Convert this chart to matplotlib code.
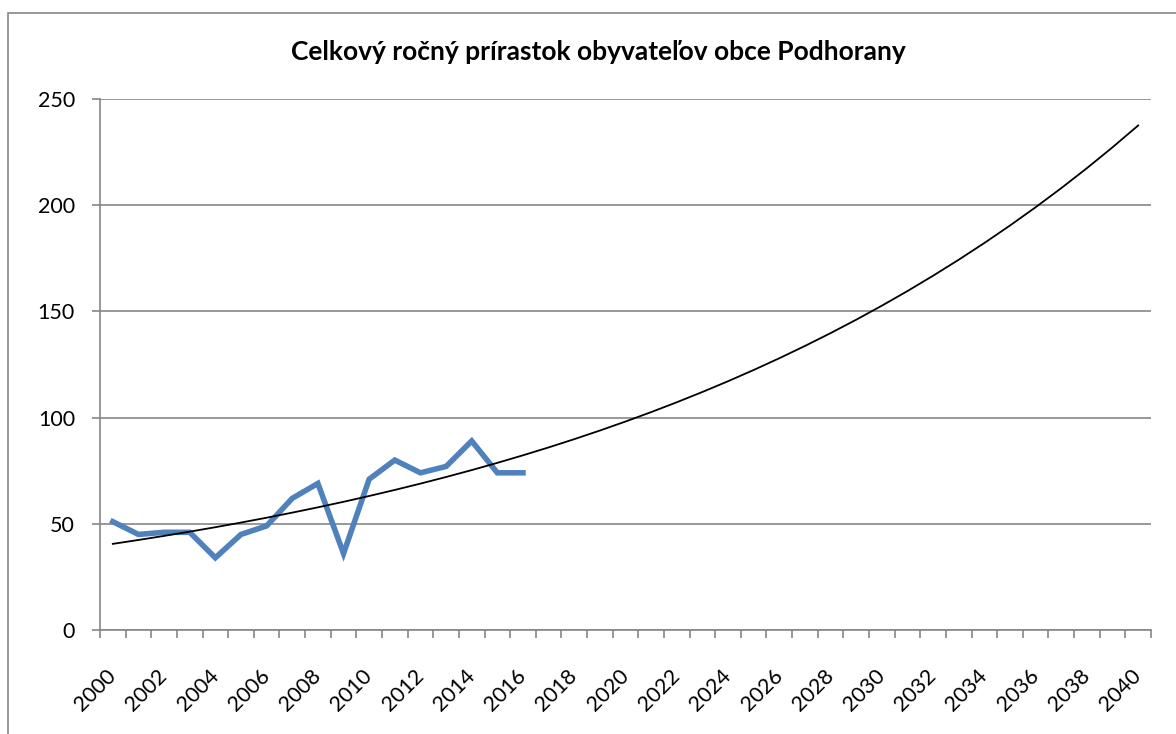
import numpy as np
import matplotlib.pyplot as plt
from matplotlib.patches import Rectangle

# Celkový ročný prírastok obyvateľov obce Podhorany
years = list(range(2000, 2041))
data_years = list(range(2000, 2017))
values = [51, 45, 46, 46, 34, 45, 49, 62, 69, 36, 71, 80, 74, 77, 89, 74, 74]

plt.rcParams['font.family'] = ['Lato', 'DejaVu Sans']

fig = plt.figure(figsize=(11.76, 7.34), dpi=100)
ax = fig.add_axes([100 / 1176, 1 - 630 / 734, 1051 / 1176, 531 / 734])

# chart-area border (Excel style)
fig.patches.append(Rectangle((8 / 1176, -0.01), 1.1, 1 - 13 / 734 + 0.01, transform=fig.transFigure,
                             fill=False, edgecolor='#868686', linewidth=1.2))

x_data = np.arange(len(values))
ax.plot(x_data, values, color='#4f81bd', linewidth=4, solid_joinstyle='miter', zorder=3)

# exponential trendline (least squares on log values), extended to 2040
x_all = np.arange(len(years))
b, a = np.polyfit(x_data + 1, np.log(values), 1)
ax.plot(x_all, np.exp(a + b * (x_all + 1)), color='black', linewidth=1.3, zorder=4)

ax.set_xlim(-0.5, len(years) - 0.5)
ax.set_ylim(0, 250)
ax.set_yticks([0, 50, 100, 150, 200, 250])
ax.grid(axis='y', color='#868686', linewidth=1.2)
ax.set_axisbelow(True)

ax.set_xticks(x_all[::2])
ax.set_xticklabels([str(y) for y in years[::2]], rotation=45, ha='right', va='center',
                   rotation_mode='anchor', fontsize=15.5)
ax.set_xticks(np.arange(-0.5, len(years)), minor=True)
ax.tick_params(axis='x', which='major', length=0, pad=31)
ax.tick_params(axis='x', which='minor', length=6, color='#868686', width=1.2)
ax.tick_params(axis='y', length=6, color='#868686', width=1.2, labelsize=15.5, pad=12)

for s in ['top', 'right']:
    ax.spines[s].set_visible(False)
for s in ['left', 'bottom']:
    ax.spines[s].set_color('#868686')
    ax.spines[s].set_linewidth(1.2)

fig.text(598 / 1176, 1 - 52 / 734, 'Celkový ročný prírastok obyvateľov obce Podhorany',
         ha='center', va='center', fontsize=19, fontweight='bold')

fig.savefig('out.png', dpi=100)
